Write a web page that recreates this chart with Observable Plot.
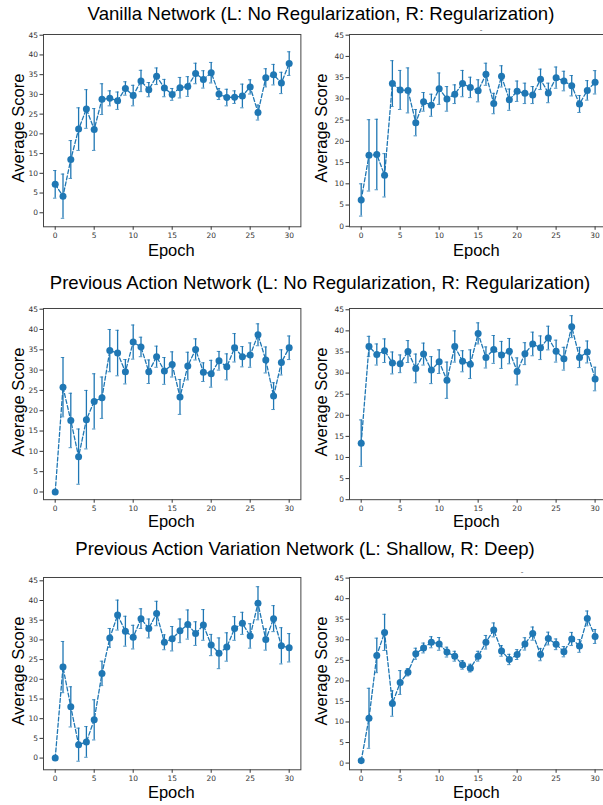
<!DOCTYPE html>
<html><head><meta charset="utf-8">
<script src="https://cdn.jsdelivr.net/npm/d3@7"></script>
<script src="https://cdn.jsdelivr.net/npm/@observablehq/plot@0.6"></script>
<style>
body{margin:0;background:#fff;overflow:hidden}
#fig{position:relative;width:603px;height:805px;overflow:hidden;font-family:"Liberation Sans",Arial,sans-serif;background:#fff}
.t{position:absolute;white-space:nowrap;color:#000;line-height:1}
.title{font-size:18.6px;transform:translate(-50%,-50%)}
.xl{font-size:16.5px;transform:translate(-50%,-50%)}
.yl{font-size:16.5px;transform:translate(-50%,-50%) rotate(-90deg)}
.dash{font-size:8px;color:#555;transform:translate(-50%,-50%)}
.p{position:absolute}
</style></head><body><div id="fig"></div><script>
const epochs = [0,1,2,3,4,5,6,7,8,9,10,11,12,13,14,15,16,17,18,19,20,21,22,23,24,25,26,27,28,29,30];
const xTicks = [0,5,10,15,20,25,30];
const yTicks = [0,5,10,15,20,25,30,35,40,45];

const titles = [
  "Vanilla Network (L: No Regularization, R: Regularization)",
  "Previous Action Network (L: No Regularization, R: Regularization)",
  "Previous Action Variation Network (L: Shallow, R: Deep)"
];
const xLabel = "Epoch";
const yLabel = "Average Score";

const vanillaNoReg    = [7.2,4.2,13.5,21.2,26.3,21.1,28.8,29.0,28.4,31.5,29.7,33.4,31.2,34.6,31.6,30.0,31.7,32.0,35.3,33.8,35.5,30.1,29.2,29.3,29.6,31.9,25.4,34.2,35.0,32.9,37.8];
const vanillaNoRegErr = [3.5,5.6,4.8,5.4,4.9,5.3,3.9,1.9,2.2,1.7,2.6,2.7,1.8,2.1,2.2,1.5,2.6,2.5,2.6,2.2,2.6,1.4,2.1,1.6,3.0,1.8,1.9,2.3,2.6,2.7,3.0];

const vanillaReg    = [6.2,16.7,16.9,12.0,33.6,32.1,32.0,24.4,29.3,28.5,32.4,30.0,31.1,33.6,32.7,31.9,35.8,28.9,35.3,29.8,31.8,31.3,30.9,34.6,31.4,35.0,34.2,33.1,28.8,32.0,33.9];
const vanillaRegErr = [3.8,8.4,8.3,5.1,5.4,4.6,5.3,3.1,2.2,2.6,3.7,2.9,2.2,3.1,2.4,2.6,2.6,2.4,2.5,2.5,2.4,2.4,2.0,2.4,2.3,2.5,2.3,2.4,2.0,2.3,2.75];

const prevNoReg    = [0,25.8,17.6,8.7,17.8,22.3,23.2,34.8,34.2,29.6,36.9,35.7,29.6,33.3,29.8,31.4,23.4,31.0,35.1,29.5,29.1,32.3,30.8,35.5,33.3,33.7,38.7,32.5,23.6,31.9,35.5];
const prevNoRegErr = [0,7.3,6.7,6.8,7.2,6.8,5.1,5.2,5.6,3.0,4.2,2.4,2.9,2.6,3.3,3.1,4.3,3.4,2.6,2.3,3.3,2.3,3.2,3.5,2.5,3.0,2.7,3.2,3.3,3.1,2.9];

const prevReg    = [13.4,36.3,34.4,35.3,32.4,32.2,35.1,31.1,34.5,30.7,32.7,28.3,36.3,32.8,32.1,39.4,33.7,35.6,34.3,35.2,30.4,34.6,36.9,36.0,38.3,35.2,33.4,41.0,33.7,35.0,28.6];
const prevRegErr = [5.5,2.4,2.5,2.8,2.6,2.1,2.6,3.4,2.6,3.2,2.8,4.3,3.7,2.5,3.4,2.5,2.5,3.3,3.2,3.0,3.2,2.6,2.8,2.8,2.8,2.6,2.7,2.6,2.4,2.6,2.8];

const varShallow    = [0,23.1,13.0,3.4,4.1,9.7,21.5,30.5,36.3,32.2,30.7,35.4,32.9,36.7,29.4,30.3,32.3,33.9,31.6,33.8,28.7,26.6,28.2,32.9,34.2,31.0,39.3,30.1,35.4,28.5,28.0];
const varShallowErr = [0,6.5,5.1,4.2,3.9,5.1,3.1,2.4,3.8,3.8,3.0,2.5,2.4,3.1,1.9,3.1,3.0,3.7,3.0,3.9,2.7,3.9,3.6,3.0,2.8,3.1,4.2,2.7,3.3,4.6,3.6];

const varDeep    = [0.6,10.9,26.2,31.8,14.5,19.6,22.1,26.6,28.0,29.4,29.0,27.0,26.0,23.9,23.1,26.0,29.4,32.4,27.3,25.2,26.4,29.0,31.5,26.4,30.3,28.9,27.1,30.2,28.5,35.2,30.8];
const varDeepErr = [0.4,7.3,4.2,4.4,3.1,2.9,0.9,1.35,1.2,1.35,1.55,1.2,1.2,1.05,0.95,1.2,1.65,1.7,1.3,1.25,1.2,1.5,1.6,1.5,1.55,1.3,1.25,1.6,1.55,1.8,1.7];

const C = "#1f77b4";
const fig = document.getElementById("fig");

// layout (page px)
const cols = [{x0:42.6, x1:300}, {x0:348.7, x1:606}];
const rows = [
  {y0:34, y1:226.3, title:{x:321, y:14}, xl:250},
  {y0:308.3, y1:499.5, title:{x:320, y:283}, xl:521},
  {y0:576.7, y1:769, title:{x:305, y:549}, xl:792}
];
const panels = [
  {r:0,c:0,mean:vanillaNoReg,err:vanillaNoRegErr,yd:[-3.55,45.18]},
  {r:0,c:1,mean:vanillaReg,err:vanillaRegErr,yd:[-0.12,45.16]},
  {r:1,c:0,mean:prevNoReg,err:prevNoRegErr,yd:[-1.9,45.17]},
  {r:1,c:1,mean:prevReg,err:prevRegErr,yd:[0,45.3]},
  {r:2,c:0,mean:varShallow,err:varShallowErr,yd:[-2.97,45.84]},
  {r:2,c:1,mean:varDeep,err:varDeepErr,yd:[-1.63,45.15]}
];

function addText(cls, txt, x, y){
  const d = document.createElement("div");
  d.className = "t " + cls; d.textContent = txt;
  d.style.left = x + "px"; d.style.top = y + "px";
  fig.appendChild(d);
}

const ML = 43, MR = 2, MT = 6, MB = 18;
panels.forEach(p => {
  const col = cols[p.c], row = rows[p.r];
  const data = epochs.map((e,i) => ({epoch:e, mean:p.mean[i], lo:p.mean[i]-p.err[i], hi:p.mean[i]+p.err[i]}));
  const width = (col.x1 - col.x0) + ML + MR;
  const height = (row.y1 - row.y0) + MT + MB;
  const chart = Plot.plot({
    width, height,
    marginLeft:ML, marginRight:MR, marginTop:MT, marginBottom:MB,
    style:{fontFamily:"DejaVu Sans", fontSize:"7.5px", color:"#333", background:"transparent", overflow:"visible"},
    x:{domain:[-1.5,31.5], ticks:xTicks, tickSize:3.5, tickPadding:2, label:null, tickFormat:d=>String(d)},
    y:{domain:p.yd, ticks:yTicks, tickSize:3.5, tickPadding:2, label:null, tickFormat:d=>String(d)},
    marks:[
      Plot.frame({stroke:"#444", strokeWidth:1}),
      Plot.ruleX(data,{x:"epoch", y1:"lo", y2:"hi", stroke:C, strokeWidth:1.3}),
      Plot.ruleY(data,{y:"lo", x1:d=>d.epoch-0.22, x2:d=>d.epoch+0.22, stroke:C, strokeWidth:1, strokeOpacity:0.8}),
      Plot.ruleY(data,{y:"hi", x1:d=>d.epoch-0.22, x2:d=>d.epoch+0.22, stroke:C, strokeWidth:1, strokeOpacity:0.8}),
      Plot.line(data,{x:"epoch", y:"mean", stroke:C, strokeWidth:1.3, strokeDasharray:"4,2.2"}),
      Plot.dot(data,{x:"epoch", y:"mean", r:3.5, fill:C, stroke:"none"})
    ]
  });
  chart.classList.add("p");
  chart.style.left = (col.x0 - ML) + "px";
  chart.style.top = (row.y0 - MT) + "px";
  fig.appendChild(chart);
  // axis labels
  addText("xl", xLabel, (col.x0 + col.x1)/2 - (p.c ? 1 : 0), row.xl);
  addText("yl", yLabel, p.c ? 321 : 18, (row.y0 + row.y1)/2 - 2);
});

rows.forEach((row,i) => addText("title", titles[i], row.title.x, row.title.y));
addText("dash", "-", 481, 30);
addText("dash", "-", 522, 572);
</script></body></html>
